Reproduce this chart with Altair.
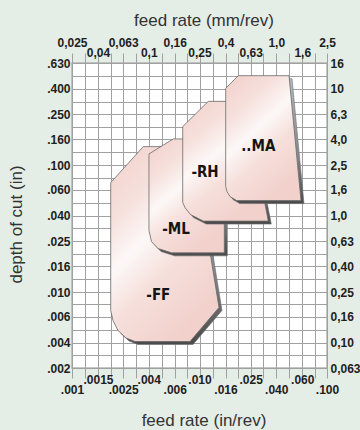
import math
import json
import altair as alt
import pandas as pd

# ---- tick values (mm) and the labels printed for them ----------------------
feed_mm = [0.025, 0.04, 0.063, 0.1, 0.16, 0.25, 0.4, 0.63, 1.0, 1.6, 2.5]
feed_mm_labels = ["0,025", "0,04", "0,063", "0,1", "0,16", "0,25", "0,4", "0,63", "1,0", "1,6", "2,5"]
feed_in_labels = [".001", ".0015", ".0025", ".004", ".006", ".010", ".016", ".025", ".040", ".060", ".100"]

depth_mm = [0.063, 0.1, 0.16, 0.25, 0.4, 0.63, 1.0, 1.6, 2.5, 4.0, 6.3, 10.0, 16.0]
depth_mm_labels = ["0,063", "0,10", "0,16", "0,25", "0,40", "0,63", "1,0", "1,6", "2,5", "4,0", "6,3", "10", "16"]
depth_in_labels = [".002", ".004", ".006", ".010", ".016", ".025", ".040", ".060", ".100", ".160", ".250", ".400", ".630"]

# ---- chip-breaker application areas: outline (feed mm/rev, depth mm) -------
ff_feed = [0.0503, 0.0906, 0.222, 0.3555, 0.2106, 0.078, 0.0663, 0.0574, 0.0524, 0.0503]
ff_depth = [1.824, 3.507, 3.507, 0.189, 0.1019, 0.1019, 0.1086, 0.1244, 0.1492, 0.1789]
ml_feed = [0.1004, 0.1558, 0.3913, 0.3913, 0.1513, 0.1182, 0.1051, 0.1004]
ml_depth = [3.071, 4.031, 4.031, 0.5094, 0.5094, 0.551, 0.6254, 0.7636]
rh_feed = [0.1846, 0.293, 0.5685, 0.866, 0.2678, 0.2125, 0.1924, 0.1846]
rh_depth = [5.039, 7.976, 7.976, 0.907, 0.907, 1.0207, 1.159, 1.276]
ma_feed = [0.4012, 0.504, 1.259, 1.563, 0.4895, 0.4337, 0.4108, 0.4012]
ma_depth = [10.10, 12.71, 12.71, 1.316, 1.316, 1.415, 1.550, 1.696]

names = ["-FF", "-ML", "-RH", "..MA"]
label_feed = [0.1188, 0.1636, 0.2762, 0.723]
label_depth = [0.239, 0.7876, 2.199, 3.57]

rows = []
for name, fs, ds in zip(names, [ff_feed, ml_feed, rh_feed, ma_feed],
                        [ff_depth, ml_depth, rh_depth, ma_depth]):
    for i, (f, d) in enumerate(zip(fs, ds)):
        rows.append({"shape": name, "i": i, "feed": f, "depth": d})
areas = pd.DataFrame(rows)
labels = pd.DataFrame({"shape": names, "feed": label_feed, "depth": label_depth})

# ---- scales and grid --------------------------------------------------------
xs = alt.Scale(type="log", domain=[feed_mm[0], feed_mm[-1]], nice=False)
ys = alt.Scale(type="log", domain=[depth_mm[0], depth_mm[-1]], nice=False)


def with_midpoints(ticks):
    out = []
    for a, b in zip(ticks, ticks[1:]):
        out += [a, math.sqrt(a * b)]
    return out + [ticks[-1]]


grid_x = with_midpoints(feed_mm)
grid_y = with_midpoints(depth_mm)

LABEL_FONT = "Liberation Sans"
TITLE_FONT = "Liberation Sans"
GRID = "#a0a0a0"


def pick(expr_labels):
    n = len(expr_labels) - 1
    return f"{json.dumps(expr_labels)}[round(datum.index * {max(n, 1)})]"


label_style = dict(labelFont=LABEL_FONT, labelFontSize=12, labelFontWeight="bold",
                   labelColor="#1e1e1e", domain=False, grid=False, ticks=False,
                   tickSize=0, labelOverlap=False, labelFlush=False,
                   titleFont=TITLE_FONT, titleFontSize=17, titleFontWeight="normal",
                   titleColor="#333333")

x_grid_axis = alt.Axis(orient="bottom", values=grid_x, grid=True, gridColor=GRID,
                       gridWidth=1, labels=False, ticks=True, tickSize=10,
                       tickColor=GRID, domain=False, title=None)
x_top_ticks = alt.Axis(orient="top", values=grid_x, grid=False, labels=False,
                       ticks=True, tickSize=10, tickColor=GRID, domain=False, title=None)
x_top_hi = alt.Axis(orient="top", values=feed_mm[0::2], labelExpr=pick(feed_mm_labels[0::2]),
                    labelPadding=14, title=None, **label_style)
x_top_lo = alt.Axis(orient="top", values=feed_mm[1::2], labelExpr=pick(feed_mm_labels[1::2]),
                    labelPadding=4, title="feed rate (mm/rev)", titleX=131.5, titleY=-43,
                    titleBaseline="middle", titleAlign="center", titleAngle=0, **label_style)
x_bot_lo = alt.Axis(orient="bottom", values=feed_mm[0::2], labelExpr=pick(feed_in_labels[0::2]),
                    labelPadding=16, title="feed rate (in/rev)", titleX=131.5, titleY=52.5,
                    titleBaseline="middle", titleAlign="center", titleAngle=0, **label_style)
x_bot_hi = alt.Axis(orient="bottom", values=feed_mm[1::2], labelExpr=pick(feed_in_labels[1::2]),
                    labelPadding=6, title=None, **label_style)

y_grid_axis = alt.Axis(orient="left", values=grid_y, grid=True, gridColor=GRID, gridWidth=1,
                       labels=False, ticks=False, domain=False, title=None)
y_left = alt.Axis(orient="left", values=depth_mm, labelExpr=pick(depth_in_labels),
                  labelPadding=2, labelBaseline="middle", title="depth of cut (in)",
                  titleX=-56, titleY=161, titleAngle=270, titleBaseline="middle",
                  titleAlign="center", **label_style)
y_right = alt.Axis(orient="right", values=depth_mm, labelExpr=pick(depth_mm_labels),
                   labelPadding=3, labelBaseline="middle", title=None, **label_style)

# glossy pink face with a pale diagonal band, and a grey drop shadow
face = alt.Gradient(
    gradient="linear", x1=0, y1=0, x2=0.55, y2=1,
    stops=[alt.GradientStop(color="#f2cfca", offset=0),
           alt.GradientStop(color="#f6e1dd", offset=0.3),
           alt.GradientStop(color="#fcf8f7", offset=0.5),
           alt.GradientStop(color="#f6e0dc", offset=0.7),
           alt.GradientStop(color="#f2d1cc", offset=1)])
shade = alt.Gradient(
    gradient="linear", x1=0, y1=0, x2=0, y2=1,
    stops=[alt.GradientStop(color="#b3b9bf", offset=0),
           alt.GradientStop(color="#878b8f", offset=0.6),
           alt.GradientStop(color="#4a4a4a", offset=1)])

axis_plan = {
    ("-FF", True): (x_grid_axis, y_grid_axis),
    ("-FF", False): (x_top_ticks, y_left),
    ("-ML", True): (x_top_hi, y_right),
    ("-ML", False): (x_top_lo, None),
    ("-RH", True): (x_bot_lo, None),
    ("-RH", False): (x_bot_hi, None),
}

layers = []
for name in names:
    for shadow in (True, False):
        xa, ya = axis_plan.get((name, shadow), (None, None))
        if shadow:
            mark = dict(interpolate="linear-closed", fill=shade, stroke="#6f6f6f",
                        strokeWidth=0.6, xOffset=3, yOffset=3)
        else:
            mark = dict(interpolate="linear-closed", fill=face, stroke="#6a6a6a",
                        strokeWidth=0.8)
        layers.append(
            alt.Chart(areas).mark_line(**mark)
            .transform_filter(alt.datum.shape == name)
            .encode(
                x=alt.X("feed:Q", scale=xs, axis=xa),
                y=alt.Y("depth:Q", scale=ys, axis=ya),
                order=alt.Order("i:Q"),
            )
        )

text = alt.Chart(labels).mark_text(
    font="Liberation Sans Narrow, DejaVu Sans Condensed, sans-serif",
    fontSize=15, fontWeight="bold", color="#141414",
).encode(
    x=alt.X("feed:Q", scale=xs, axis=None),
    y=alt.Y("depth:Q", scale=ys, axis=None),
    text="shape:N",
)

chart = (
    alt.layer(*layers, text)
    .resolve_axis(x="independent", y="independent")
    .properties(width=255, height=305, autosize="none",
                padding={"left": 72, "top": 63, "right": 33, "bottom": 62})
    .configure(background="#e4ede6")
    .configure_view(fill="white", stroke="#b4b4b4", strokeWidth=1.5)
)

chart.save("out.html", embed_options={"renderer": "svg", "actions": False})
